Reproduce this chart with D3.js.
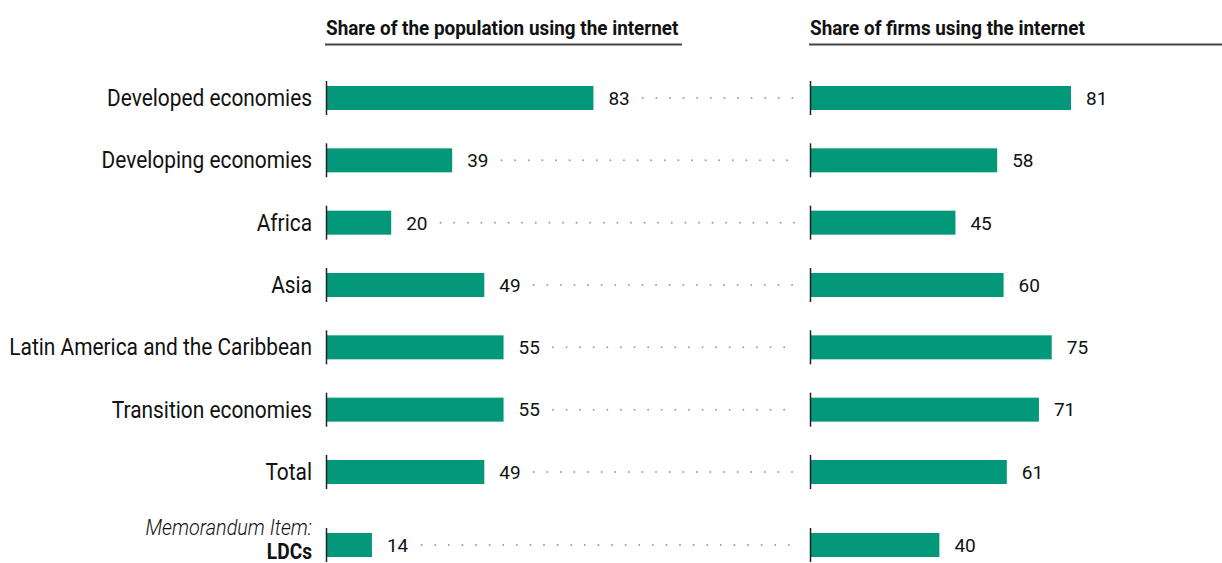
<!DOCTYPE html>
<html>
<head>
<meta charset="utf-8">
<script src="https://cdn.jsdelivr.net/npm/d3@7"></script>
<style>
  html, body { margin: 0; padding: 0; background: #fff; }
  svg { display: block; }
  .lbl { font-family: "Roboto", "Liberation Sans", sans-serif; fill: #111; }
  .val { font-family: "Roboto", "Liberation Sans", sans-serif; fill: #111; }
  .hdr { font-family: "Roboto", "Liberation Sans", sans-serif; font-weight: bold; fill: #111; }
</style>
</head>
<body>
<script>
// Regions and the memorandum item (last entry)
const categories = [
  "Developed economies",
  "Developing economies",
  "Africa",
  "Asia",
  "Latin America and the Caribbean",
  "Transition economies",
  "Total",
  "LDCs"
];
// Share of the population using the internet (%)
const populationShare = [83, 39, 20, 49, 55, 55, 49, 14];
// Share of firms using the internet (%)
const firmsShare = [81, 58, 45, 60, 75, 71, 61, 40];
const panelTitles = ["Share of the population using the internet", "Share of firms using the internet"];
const memoNote = "Memorandum Item:";

const W = 1222, H = 563;
const green = "#03987a";
const narrow = 0.87; // horizontal squeeze for a condensed look

const svg = d3.select("body").append("svg").attr("width", W).attr("height", H);

// Row positions: regular rows on an even step, the memo row sits after an extra gap
const rowStep = 62.33, firstRow = 98, memoGap = 10.7;
const yRow = i => firstRow + i * rowStep + (i === categories.length - 1 ? memoGap : 0);
const barH = 24;

const panels = [
  { x0: 327, values: populationShare, title: panelTitles[0], ruleEnd: 682 },
  { x0: 811, values: firmsShare, title: panelTitles[1], ruleEnd: 1222 }
];
panels.forEach(p => { p.scale = d3.scaleLinear().domain([0, 100]).range([p.x0, p.x0 + 321]); });

// condensed text helper: positioned by a transform, squeezed horizontally
function condensed(cls, x, y, str, size, anchor, sx) {
  return svg.append("text").attr("class", cls)
    .attr("transform", `translate(${x},${y}) scale(${sx},1)`)
    .attr("text-anchor", anchor)
    .attr("font-size", size)
    .text(str);
}

// Panel headers with underline
panels.forEach(p => {
  condensed("hdr", p.x0 - 1, 35, p.title, 21, "start", 0.9);
  svg.append("line")
    .attr("x1", p.x0 - 2).attr("x2", p.ruleEnd)
    .attr("y1", 44.5).attr("y2", 44.5)
    .attr("stroke", "#444").attr("stroke-width", 2);
});

// Category labels
const labelX = 312;
categories.forEach((c, i) => {
  const y = yRow(i);
  if (i === categories.length - 1) {
    condensed("lbl", labelX, y - 10, memoNote, 22, "end", 0.9)
      .attr("font-style", "italic").attr("font-weight", 300);
    condensed("lbl", labelX, 559, c, 22, "end", narrow)
      .attr("font-weight", "bold");
  } else {
    condensed("lbl", labelX, y + 8, c, 24, "end", narrow)
      .attr("font-weight", 400);
  }
});

// Bars, value labels and axis lines for each panel
panels.forEach((p, pi) => {
  const g = svg.append("g");
  g.selectAll("rect").data(p.values).join("rect")
    .attr("x", p.scale(0))
    .attr("y", (d, i) => yRow(i) - barH / 2)
    .attr("width", d => p.scale(d) - p.scale(0))
    .attr("height", barH)
    .attr("fill", green);

  const vals = g.selectAll("text.val").data(p.values).join("text")
    .attr("class", "val")
    .attr("x", d => p.scale(d) + 15)
    .attr("y", (d, i) => yRow(i))
    .attr("dy", "0.36em")
    .attr("font-size", 19)
    .text(d => d);

  // dotted leaders from the left panel's values to the right panel
  if (pi === 0) {
    vals.each(function (d, i) {
      const end = this.getBBox().x + this.getBBox().width;
      svg.append("line")
        .attr("x1", end + 13).attr("x2", 795)
        .attr("y1", yRow(i)).attr("y2", yRow(i))
        .attr("stroke", "#a0a0a0").attr("stroke-width", 2)
        .attr("stroke-linecap", "round")
        .attr("stroke-dasharray", "0 13.6");
    });
  }

  g.selectAll("line.ax").data(p.values).join("line")
    .attr("class", "ax")
    .attr("x1", p.scale(0) - 0.5).attr("x2", p.scale(0) - 0.5)
    .attr("y1", (d, i) => yRow(i) - 17)
    .attr("y2", (d, i) => Math.min(yRow(i) + 17, H))
    .attr("stroke", "#222").attr("stroke-width", 1.5);
});
</script>
</body>
</html>
